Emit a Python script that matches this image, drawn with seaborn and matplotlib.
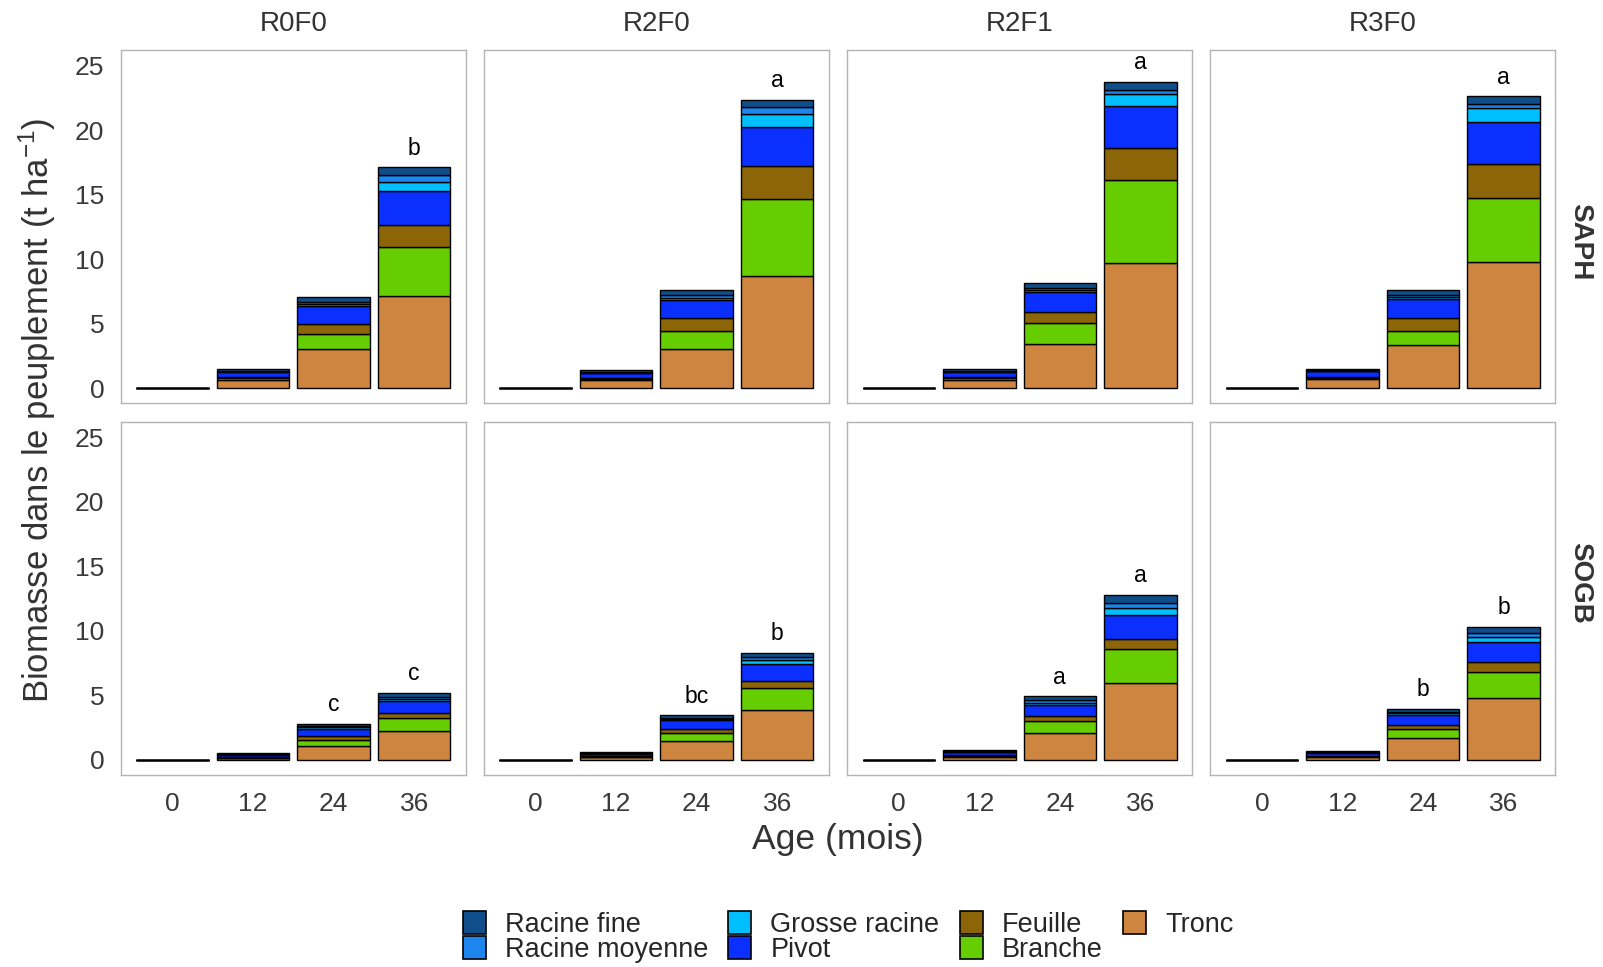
import matplotlib
matplotlib.use("Agg")
import matplotlib.pyplot as plt
from matplotlib.patches import Patch
import numpy as np
import pandas as pd
import seaborn as sns

sites = ["SAPH", "SOGB"]
traitements = ["R0F0", "R2F0", "R2F1", "R3F0"]
ages = ["0", "12", "24", "36"]
compartiments = ["Racine fine", "Racine moyenne", "Grosse racine", "Pivot",
                 "Feuille", "Branche", "Tronc"]
couleurs = ["#104E8B", "#1C86EE", "#00BFFF", "#0A2FFF",
            "#8B6508", "#66CD00", "#CD853F"]

# valeurs (t/ha) : site x traitement x age, dans l'ordre ci-dessus
tronc = [0, .65, 3.03, 7.15,  0, .60, 3.00, 8.68,  0, .65, 3.42, 9.66,  0, .67, 3.34, 9.74,
         0, .10, 1.06, 2.22,  0, .18, 1.45, 3.85,  0, .23, 2.07, 5.97,  0, .18, 1.65, 4.75]
branche = [0, .10, 1.17, 3.75,  0, .10, 1.46, 6.01,  0, .10, 1.61, 6.45,  0, .09, 1.12, 4.97,
           0, .04, .49, .98,    0, .05, .62, 1.68,   0, .07, .90, 2.63,   0, .07, .70, 2.07]
feuille = [0, .10, .75, 1.74,  0, .08, 1.01, 2.51,  0, .10, .90, 2.46,  0, .09, 1.01, 2.64,
           0, .05, .26, .39,   0, .05, .33, .59,    0, .06, .42, .78,   0, .06, .36, .72]
pivot = [0, .39, 1.40, 2.66,  0, .39, 1.34, 3.00,  0, .39, 1.53, 3.29,  0, .45, 1.47, 3.29,
         0, .18, .59, .95,    0, .17, .67, 1.32,   0, .24, .85, 1.86,   0, .23, .78, 1.55]
grosse_racine = [0, .06, .13, .66,  0, .05, .19, 1.01,  0, .06, .13, .94,  0, .05, .13, 1.04,
                 0, .03, .10, .16,  0, .03, .08, .26,   0, .03, .18, .52,  0, .03, .10, .39]
racine_moyenne = [0, .06, .18, .57,  0, .05, .18, .58,  0, .06, .13, .33,  0, .05, .13, .34,
                  0, .04, .10, .18,  0, .03, .07, .23,  0, .03, .18, .38,  0, .03, .13, .34]
racine_fine = [0, .12, .39, .57,  0, .10, .41, .54,  0, .12, .41, .60,  0, .10, .39, .59,
               0, .10, .19, .29,  0, .06, .21, .34,  0, .06, .31, .65,  0, .04, .23, .44]

lettres_saph = ["", "", "", "b",  "", "", "", "a",  "", "", "", "a",  "", "", "", "a"]
lettres_sogb = ["", "", "c", "c",  "", "", "bc", "b",  "", "", "a", "a",  "", "", "b", "b"]

valeurs = {"Tronc": tronc, "Branche": branche, "Feuille": feuille, "Pivot": pivot,
           "Grosse racine": grosse_racine, "Racine moyenne": racine_moyenne,
           "Racine fine": racine_fine}

rows = []
for comp, vals in valeurs.items():
    k = 0
    for s in sites:
        for t in traitements:
            for a in ages:
                rows.append((s, t, a, comp, vals[k]))
                k += 1
df = pd.DataFrame(rows, columns=["Site", "Traitement", "Age", "Compartiment", "Biomasse"])
df["Age"] = pd.Categorical(df["Age"], categories=ages, ordered=True)
lettres = {"SAPH": lettres_saph, "SOGB": lettres_sogb}

sns.set_style("white")
plt.rcParams["font.family"] = ["Liberation Sans", "DejaVu Sans"]
plt.rcParams["mathtext.fontset"] = "custom"
plt.rcParams["mathtext.rm"] = "Liberation Sans"
plt.rcParams["mathtext.it"] = "Liberation Sans:italic"

fig, axes = plt.subplots(2, 4, figsize=(16.03, 9.67), dpi=100, sharey=True)
fig.subplots_adjust(left=121/1603, right=1555/1603, top=1-50/967, bottom=1-775/967,
                    wspace=0.0536, hspace=0.051)

pal = dict(zip(compartiments, couleurs))
for i, s in enumerate(sites):
    for j, t in enumerate(traitements):
        ax = axes[i, j]
        sub = df[(df["Site"] == s) & (df["Traitement"] == t)]
        sns.histplot(data=sub, x="Age", weights="Biomasse", hue="Compartiment",
                     hue_order=compartiments, palette=pal, multiple="stack",
                     discrete=True, shrink=0.9, edgecolor="black", linewidth=1,
                     alpha=1, legend=False, ax=ax)
        totaux = sub.groupby("Age", observed=False)["Biomasse"].sum()
        lt = lettres[s][j*4:(j+1)*4]
        for k, a in enumerate(ages):
            if lt[k]:
                ax.text(k, totaux[a] + 0.6, lt[k], ha="center", va="bottom",
                        fontsize=16.5, color="black")
        ax.set_xlim(-0.64, 3.64)
        ax.set_ylim(-1.19, 26.2)
        ax.set_yticks([0, 5, 10, 15, 20, 25])
        ax.set_xticks(range(4))
        ax.set_xticklabels(ages)
        ax.set_xlabel("")
        ax.set_ylabel("")
        for sp in ax.spines.values():
            sp.set_color("#B3B3B3")
            sp.set_linewidth(1)
        ax.tick_params(axis="both", labelsize=19, colors="#4D4D4D", length=7,
                       width=1.1, pad=5, labelcolor="#3A3A3A")
        if i == 0:
            ax.tick_params(axis="x", bottom=False, labelbottom=False)
            ax.set_title(t, fontsize=20, color="#333333", pad=14)
        if j > 0:
            ax.tick_params(axis="y", left=False, labelleft=False)
    fig.text(1580/1603, 1 - (242 if i == 0 else 583)/967, s, rotation=-90,
             ha="center", va="center", fontsize=20, fontweight="bold", color="#333333")

fig.text(37/1603, 1 - 410/967, "Biomasse dans le peuplement (t ha$^{-1}$)",
         rotation=90, ha="center", va="center", fontsize=25, color="#333333")
fig.text(838/1603, 1 - 840/967, "Age (mois)", ha="center", va="center",
         fontsize=25.5, color="#333333")

handles = [Patch(facecolor=c, edgecolor="black", linewidth=1.2) for c in couleurs]
fig.legend(handles, compartiments, loc="center", bbox_to_anchor=(848/1603, 1 - 937/967),
           ncol=4, frameon=False, fontsize=19.5, handlelength=0.85, handleheight=0.95,
           labelspacing=-0.08, handletextpad=0.7, columnspacing=0.75, borderpad=0)

fig.savefig("out.png", dpi=100)
